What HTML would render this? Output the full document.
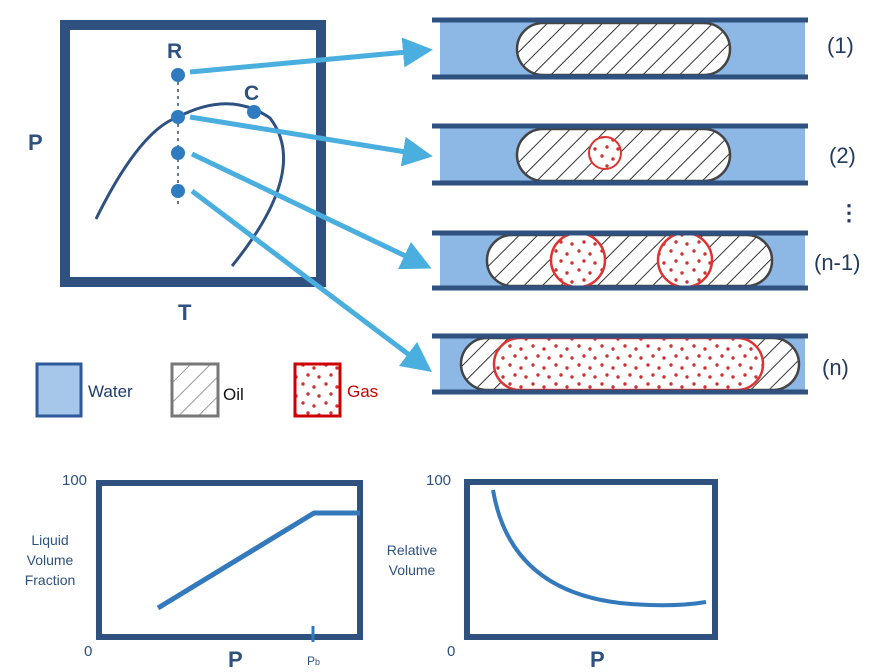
<!DOCTYPE html>
<html><head><style>body{margin:0;background:#fff}svg{display:block}</style></head><body>
<svg width="896" height="672" xmlns="http://www.w3.org/2000/svg" font-family="Liberation Sans, sans-serif">
<defs>
<pattern id="hatch" width="13" height="13" patternUnits="userSpaceOnUse" patternTransform="rotate(45)">
<rect width="13" height="13" fill="#fff"/><line x1="0" y1="0" x2="0" y2="13" stroke="#333" stroke-width="2"/></pattern>
<pattern id="hatchL" width="14" height="14" patternUnits="userSpaceOnUse" patternTransform="rotate(45)">
<rect width="14" height="14" fill="#fff"/><line x1="0" y1="0" x2="0" y2="14" stroke="#777" stroke-width="1.5"/></pattern>
<pattern id="dots" width="23" height="19" patternUnits="userSpaceOnUse">
<rect width="23" height="19" fill="#fff"/><circle cx="4" cy="4" r="1.7" fill="#c33"/><circle cx="15" cy="7" r="1.7" fill="#c33"/><circle cx="9" cy="14" r="1.7" fill="#c33"/><circle cx="20" cy="16" r="1.7" fill="#c33"/></pattern>
<marker id="ah" markerWidth="6" markerHeight="6" refX="3" refY="3" orient="auto" markerUnits="strokeWidth"><path d="M0,0 L6,3 L0,6z" fill="#4aaede"/></marker>
</defs>
<rect x="65" y="25" width="256" height="257" fill="none" stroke="#2e5180" stroke-width="10"/>
<text x="28" y="150" font-size="22" font-weight="bold" fill="#2e5180">P</text>
<text x="178" y="320" font-size="22" font-weight="bold" fill="#2e5180">T</text>
<text x="167" y="58" font-size="21" font-weight="bold" fill="#2e5180">R</text>
<text x="244" y="100" font-size="21" font-weight="bold" fill="#2e5180">C</text>
<line x1="178" y1="75" x2="178" y2="207" stroke="#2e5180" stroke-width="1.5" stroke-dasharray="3,4"/>
<path d="M96,219 Q140,130 178,117 Q230,90 270,118 Q310,170 232,266" fill="none" stroke="#2e5180" stroke-width="3"/>
<g fill="#2f7bbf"><circle cx="178" cy="75" r="7"/><circle cx="178" cy="117" r="7"/><circle cx="178" cy="153" r="7"/><circle cx="178" cy="191" r="7"/><circle cx="254" cy="112" r="7"/></g>
<g>
<rect x="440" y="22" width="365" height="54" fill="#8db7e4"/>
<rect x="440" y="128" width="365" height="54" fill="#8db7e4"/>
<rect x="440" y="234" width="365" height="53" fill="#8db7e4"/>
<rect x="440" y="337" width="365" height="54" fill="#8db7e4"/>
</g>
<rect x="517" y="23" width="213" height="52" rx="26" fill="url(#hatch)" stroke="#444" stroke-width="2.5"/>
<rect x="517" y="129" width="213" height="52" rx="26" fill="url(#hatch)" stroke="#444" stroke-width="2.5"/>
<circle cx="605" cy="153" r="16" fill="url(#dots)" stroke="#d33" stroke-width="2"/>
<rect x="487" y="235" width="285" height="51" rx="25" fill="url(#hatch)" stroke="#444" stroke-width="2.5"/>
<circle cx="578" cy="260" r="27" fill="url(#dots)" stroke="#d33" stroke-width="2.5"/>
<circle cx="685" cy="260" r="27" fill="url(#dots)" stroke="#d33" stroke-width="2.5"/>
<rect x="461" y="338" width="338" height="52" rx="26" fill="url(#hatch)" stroke="#444" stroke-width="2.5"/>
<rect x="494" y="338" width="269" height="52" rx="26" fill="url(#dots)" stroke="#d33" stroke-width="2.5"/>
<g stroke="#2e5180" stroke-width="5">
<line x1="432" y1="20" x2="808" y2="20"/><line x1="432" y1="77" x2="808" y2="77"/>
<line x1="432" y1="126" x2="808" y2="126"/><line x1="432" y1="183" x2="808" y2="183"/>
<line x1="432" y1="233" x2="808" y2="233"/><line x1="432" y1="288" x2="808" y2="288"/>
<line x1="432" y1="336" x2="808" y2="336"/><line x1="432" y1="392" x2="808" y2="392"/>
</g>
<g stroke="#4aaede" stroke-width="5" marker-end="url(#ah)">
<line x1="190" y1="72" x2="418" y2="51"/>
<line x1="190" y1="117" x2="418" y2="154"/>
<line x1="192" y1="154" x2="418" y2="262"/>
<line x1="192" y1="191" x2="420" y2="363"/>
</g>
<g font-size="22" fill="#223a5e">
<text x="827" y="53">(1)</text><text x="829" y="163">(2)</text>
<text x="838" y="220" font-weight="bold">⋮</text>
<text x="814" y="270">(n-1)</text><text x="822" y="375">(n)</text>
</g>
<rect x="37" y="364" width="44" height="52" fill="#a6c6ea" stroke="#2e5a9a" stroke-width="3"/>
<text x="88" y="397" font-size="17" fill="#1f3a6e">Water</text>
<rect x="172" y="364" width="46" height="52" fill="url(#hatchL)" stroke="#777" stroke-width="3"/>
<text x="223" y="400" font-size="17" fill="#111">Oil</text>
<rect x="295" y="364" width="45" height="52" fill="url(#dots)" stroke="#c00" stroke-width="3"/>
<text x="347" y="397" font-size="17" fill="#c00">Gas</text>
<rect x="99" y="483" width="261" height="154" fill="none" stroke="#2e5180" stroke-width="6"/>
<polyline points="158,608 314,513 360,513" fill="none" stroke="#3479bb" stroke-width="5"/>
<line x1="313" y1="626" x2="313" y2="642" stroke="#3479bb" stroke-width="3"/>
<g fill="#2e5180">
<text x="62" y="485" font-size="15">100</text>
<text x="84" y="656" font-size="15">0</text>
<text x="228" y="667" font-size="22" font-weight="bold">P</text>
<text x="307" y="665" font-size="12">P<tspan font-size="9">b</tspan></text>
<text x="50" y="545" font-size="14" text-anchor="middle">Liquid</text>
<text x="50" y="565" font-size="14" text-anchor="middle">Volume</text>
<text x="50" y="585" font-size="14" text-anchor="middle">Fraction</text>
<text x="426" y="485" font-size="15">100</text>
<text x="447" y="656" font-size="15">0</text>
<text x="590" y="667" font-size="22" font-weight="bold">P</text>
<text x="412" y="555" font-size="14" text-anchor="middle">Relative</text>
<text x="412" y="575" font-size="14" text-anchor="middle">Volume</text>
</g>
<rect x="467" y="482" width="248" height="155" fill="none" stroke="#2e5180" stroke-width="6"/>
<path d="M493,490 Q510,590 620,603 Q670,608 706,602" fill="none" stroke="#3479bb" stroke-width="4"/>
</svg>
</body></html>
